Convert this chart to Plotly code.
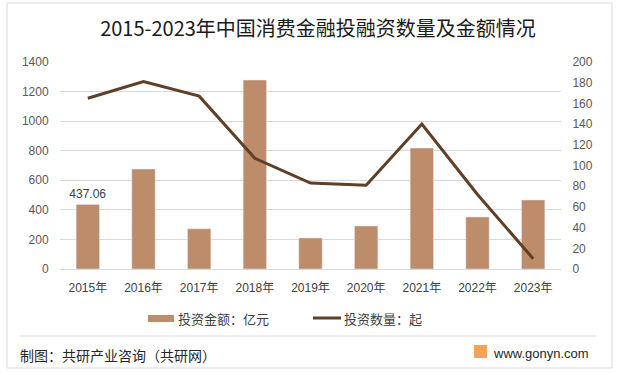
import plotly.graph_objects as go

years = ["2015年", "2016年", "2017年", "2018年", "2019年", "2020年", "2021年", "2022年", "2023年"]
amount = [437.06, 676, 272, 1278, 210, 291, 818, 352, 467]
count = [165, 181, 167, 107, 83, 81, 140, 72, 10]
left_ticks = [0, 200, 400, 600, 800, 1000, 1200, 1400]
right_ticks = [0, 20, 40, 60, 80, 100, 120, 140, 160, 180, 200]
legend_names = ["投资金额：亿元", "投资数量：起"]

bar_color = "#BC8C6B"
line_color = "#5E3F27"
cjk = "Noto Sans CJK SC"
latin = "Liberation Sans, Noto Sans CJK SC"

labels = ["437.06"] + [""] * (len(amount) - 1)

fig = go.Figure()
fig.add_trace(go.Bar(
    x=years, y=amount, name=legend_names[0],
    marker=dict(color=bar_color), yaxis="y",
    text=labels, textposition="outside", cliponaxis=False, constraintext="none",
    textfont=dict(size=12, color="#404040", family=latin),
))
fig.add_trace(go.Scatter(
    x=years, y=count, name=legend_names[1], mode="lines",
    line=dict(color=line_color, width=3), yaxis="y2",
))

W, H = 620, 374
L, R, T, B = 60, 561, 62, 269
def px(x):
    return (x - L) / (R - L)
def py(y):
    return (B - y) / (B - T)

shapes = [
    dict(type="rect", xref="paper", yref="paper", x0=px(7), x1=px(612), y0=py(368), y1=py(3),
         line=dict(color="#D9D9D9", width=1), layer="below"),
    dict(type="line", xref="paper", yref="paper", x0=px(20), x1=px(596), y0=py(336), y1=py(336),
         line=dict(color="#D9D9D9", width=1)),
    dict(type="rect", xref="paper", yref="paper", x0=px(474), x1=px(487), y0=py(358), y1=py(345),
         fillcolor="#F4A25A", line=dict(width=0)),
    # legend swatches
    dict(type="rect", xref="paper", yref="paper", x0=px(148), x1=px(174), y0=py(322), y1=py(315),
         fillcolor=bar_color, line=dict(width=0)),
    dict(type="line", xref="paper", yref="paper", x0=px(313), x1=px(341), y0=py(318), y1=py(318),
         line=dict(color=line_color, width=3)),
]

annotations = [
    dict(text=legend_names[0], xref="paper", yref="paper", x=px(176), y=py(318),
         xanchor="left", yanchor="middle", showarrow=False,
         font=dict(size=13, color="#404040", family=cjk)),
    dict(text=legend_names[1], xref="paper", yref="paper", x=px(342), y=py(318),
         xanchor="left", yanchor="middle", showarrow=False,
         font=dict(size=13, color="#404040", family=cjk)),
    dict(text="制图：共研产业咨询（共研网）", xref="paper", yref="paper", x=px(18), y=py(355),
         xanchor="left", yanchor="middle", showarrow=False,
         font=dict(size=14, color="#262626", family=cjk)),
    dict(text="www.gonyn.com", xref="paper", yref="paper", x=px(491), y=py(353),
         xanchor="left", yanchor="middle", showarrow=False,
         font=dict(size=13, color="#262626", family=latin)),
]

fig.update_layout(
    width=W, height=H,
    margin=dict(l=L, r=W - R, t=T, b=H - B),
    paper_bgcolor="white", plot_bgcolor="white",
    title=dict(text="2015-2023年中国消费金融投融资数量及金额情况", x=318 / W, xref="container",
               y=1 - 29 / H, yref="container", xanchor="center", yanchor="middle",
               font=dict(size=20, color="#1A1A1A", family=cjk)),
    bargap=0.58,
    showlegend=False,
    xaxis=dict(showgrid=False, showline=True, linecolor="#D9D9D9", ticks="outside",
               ticklen=8, tickcolor="rgba(0,0,0,0)",
               tickfont=dict(size=12, color="#404040", family=latin)),
    yaxis=dict(range=[0, 1400], tickvals=left_ticks, showgrid=True, gridcolor="#D9D9D9",
               zeroline=False, showline=False, ticks="outside", ticklen=8,
               tickcolor="rgba(0,0,0,0)",
               tickfont=dict(size=12, color="#595959", family=latin)),
    yaxis2=dict(range=[0, 200], tickvals=right_ticks, overlaying="y", side="right",
                showgrid=False, zeroline=False, showline=False, ticks="outside", ticklen=8,
                tickcolor="rgba(0,0,0,0)",
                tickfont=dict(size=12, color="#595959", family=latin)),
    shapes=shapes,
    annotations=annotations,
)

fig.write_html("out.html", config={"displayModeBar": False},
               post_script="document.body.style.margin='0';")
